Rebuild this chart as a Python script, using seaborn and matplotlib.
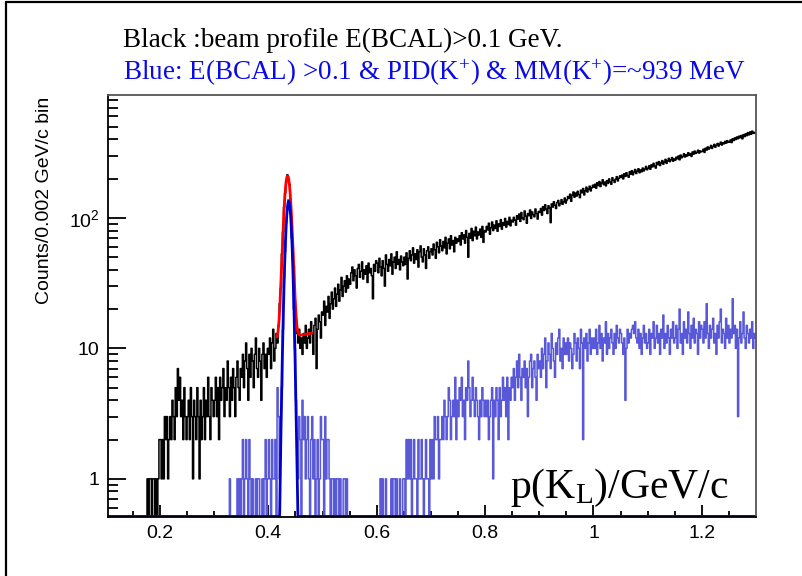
import numpy as np
import pandas as pd
import matplotlib
matplotlib.use("Agg")
import matplotlib.pyplot as plt
import seaborn as sns
from matplotlib.ticker import FixedLocator, LogLocator, NullFormatter
from matplotlib.lines import Line2D

sns.set_theme(style="white")
plt.rcParams['font.family'] = ['Liberation Sans', 'DejaVu Sans']
plt.rcParams['mathtext.fontset'] = 'custom'
plt.rcParams['mathtext.rm'] = 'Liberation Serif'
plt.rcParams['mathtext.it'] = 'Liberation Serif:italic'
plt.rcParams['mathtext.bf'] = 'Liberation Serif:bold'

# ---------------- data ----------------
BIN_START = 0.1
BIN_WIDTH = 0.002
N_BINS = 600

black_counts = (
    [0] * 25 +
    [0,0,0,0,0, 0,0,0,0,0, 0,0,0,1,0, 1,1,0,1,1, 0,1,0,1,2] +
    [2,1,2,1,3, 2,3,1,2,3, 2,4,3,2,5, 3,7,4,6,3, 4,2,5,3,2] +
    [3,4,2,5,3, 1,4,3,2,5, 3,1,4,2,3, 5,2,4,3,6, 3,2,5,4,3] +
    [4,6,3,5,2, 6,4,5,7,3, 5,4,8,5,3, 6,4,7,5,3, 6,8,5,4,7] +
    [6,9,5,8,11, 7,4,9,6,10, 8,5,9,12,7, 6,10,8,4,9, 11,7,9,6,10] +
    [9,12,7,11,14, 8,10,13,11,15, 22,29,53,78,121, 155,196,214,199,181, 134,101,60,43,23] +
    [17,13,11,14,10, 12,9,13,11,15, 10,12,14,11,16, 13,9,15,17,7, 14,18,16,12,19] +
    [18,23,15,21,19, 25,17,22,27,20, 24,29,21,26,31, 23,28,35,25,30, 33,27,36,29,34] +
    [31,38,42,33,40, 36,29,41,44,35, 39,46,34,40,37, 43,32,45,38,41, 36,24,44,39,47] +
    [45,38,49,42,36, 47,41,30,52,44, 39,48,43,53,37, 46,50,41,55,44, 48,40,51,46,43] +
    [50,44,54,34,49, 56,47,52,59,45, 53,48,57,42,55, 61,50,46,58,52, 41,56,60,49,55] +
    [58,52,63,57,49, 65,60,54,68,61, 56,66,59,71,53, 64,69,58,73,62, 67,55,71,64,69] +
    [66,73,62,77,69, 74,64,80,71,50, 76,70,83,67,79, 73,85,69,78,74, 82,71,86,65,80] +
    [78,86,81,91,75, 84,93,80,88,83, 95,79,90,86,97, 82,92,88,99,85, 94,89,101,87,96] +
    [93,101,96,88,104, 98,107,94,110,100, 97,113,103,91,108, 104,115,99,111,106, 102,117,108,98,112] +
    [110,118,105,122,114, 126,117,108,124,119, 92,128,121,133,125, 118,131,136,124,129, 138,127,133,142,130] +
    [137,146,141,152,134, 149,158,144,155,147, 160,151,143,163,156, 168,150,161,172,158, 166,175,161,170,178] +
    [172,181,169,186,177, 190,174,185,196,180, 188,176,193,184,199, 189,181,203,194,187, 198,207,192,201,210] +
    [204,213,199,218,208, 222,211,205,226,216, 230,214,224,235,219, 228,238,222,233,226, 241,229,237,248,234] +
    [240,251,236,255,246, 262,249,241,266,256, 270,252,263,275,258, 268,281,262,274,286, 270,279,290,272,283] +
    [277,292,284,298,279, 303,289,296,310,293, 305,298,316,302,311, 296,320,308,325,312, 318,330,314,326,321] +
    [324,336,318,342,331, 350,337,345,359,341, 353,366,348,360,372, 355,368,381,362,376, 370,386,374,391,380] +
    [383,396,378,404,392, 410,399,417,405,423, 412,428,404,435,420, 441,427,450,433,456, 438,462,445,452,447]
)

blue_counts = (
    [0] * 100 +
    [0,0,0,0,0, 0,0,0,0,0, 0,0,0,0,1, 0,0,0,0,0, 0,1,0,1,0] +
    [1,2,0,1,2, 1,0,2,1,0, 1,0,0,1,0, 1,1,0,0,1, 0,1,2,0,1] +
    [2,1,0,2,1, 1,2,0,5,3, 1,3,5,14,35, 55,92,121,138,126, 108,70,47,20,10] +
    [4,2,1,3,2, 0,4,2,3,1, 2,3,1,0,2, 3,1,2,0,1, 2,0,1,3,2] +
    [2,0,3,1,2, 2,1,0,1,1, 0,1,0,1,1, 0,1,0,0,1, 1,0,1,0,0] +
    [0] * 25 +
    [0,0,0,1,0, 1,0,0,1,0, 0,0,0,1,0, 1,1,0,1,0, 0,1,0,0,1] +
    [1,0,2,1,2, 1,2,0,1,2, 1,1,0,2,1, 1,2,1,0,1, 2,1,1,0,2] +
    [1,2,1,3,2, 2,3,1,2,2, 3,2,4,3,2, 3,5,4,2,3, 4,3,6,2,4] +
    [3,5,4,6,3, 4,2,5,4,8, 5,3,4,6,4, 3,5,4,3,2, 4,3,5,4,3] +
    [4,3,4,2,3, 4,5,1,4,3, 5,4,2,5,3, 4,6,4,5,3, 6,2,5,4,6] +
    [5,7,4,6,8, 5,9,6,4,7, 6,8,5,7,3, 6,8,9,5,7, 8,6,4,9,7] +
    [8,6,10,7,9, 12,5,8,11,9, 7,13,10,8,6, 11,9,12,14,8, 10,7,12,9,11] +
    [9,12,8,11,10, 7,9,13,11,8, 12,10,7,14,11, 2,12,10,13,8, 11,14,9,12,10] +
    [12,10,14,9,11, 15,10,13,8,12, 11,16,9,13,10, 12,14,11,9,13, 10,15,12,11,14] +
    [13,11,9,12,4, 10,14,11,13,12, 14,15,13,16,12, 11,14,10,13,9, 12,15,11,13,10] +
    [11,14,9,13,12, 16,10,12,15,11, 13,9,14,12,18, 10,13,11,15,12, 9,14,12,16,11] +
    [12,15,10,14,20, 11,13,9,16,12, 14,11,19,13,10, 15,12,17,11,14, 13,9,16,12,15] +
    [14,11,16,12,22, 13,10,15,12,14, 17,11,13,9,15, 12,16,20,11,14, 13,10,17,12,15] +
    [11,14,12,24,13, 15,10,14,3,12, 16,11,13,19,12, 10,15,13,11,14, 12,16,10,13,12]
)

# fit parameters
red_fit_amp, red_fit_mean, red_fit_sigma = 198.0, 0.4355, 0.0058
red_fit_bkg0, red_fit_bkg1 = 12.0, 25.0
red_fit_range = (0.416, 0.480)
blue_fit_amp, blue_fit_mean, blue_fit_sigma = 134.0, 0.4375, 0.0050

x_ticks = [0.2, 0.4, 0.6, 0.8, 1.0, 1.2]
x_tick_labels = ["0.2", "0.4", "0.6", "0.8", "1", "1.2"]
y_ticks = [1, 10, 100]
y_tick_labels = ["1", "10", r"$\mathregular{10^{2}}$"]

assert len(black_counts) == N_BINS, len(black_counts)
assert len(blue_counts) == N_BINS, len(blue_counts)

edges = [BIN_START + BIN_WIDTH * i for i in range(N_BINS + 1)]
centers = [e + BIN_WIDTH / 2 for e in edges[:-1]]
df = pd.DataFrame({"p": centers, "black": black_counts, "blue": blue_counts})

YMIN, YMAX = 0.51, 875
XMIN, XMAX = 0.104, 1.3

# ---------------- figure ----------------
fig = plt.figure(figsize=(8.02, 5.76), dpi=100)
fig.patch.set_facecolor("white")
ax = fig.add_axes([108/802, 1-517/576, 648/802, 422/576])
ax.set_facecolor("white")

sns.histplot(data=df, x="p", weights="black", bins=edges, element="step",
             fill=False, color="black", linewidth=1.1, ax=ax)
sns.histplot(data=df, x="p", weights="blue", bins=edges, element="step",
             fill=False, color="#5858d8", linewidth=1.1, ax=ax)

# red fit (gaussian + linear background)
xr = np.linspace(red_fit_range[0], red_fit_range[1], 300)
yr = (red_fit_amp * np.exp(-0.5 * ((xr - red_fit_mean) / red_fit_sigma) ** 2)
      + red_fit_bkg0 + red_fit_bkg1 * (xr - red_fit_mean))
sns.lineplot(x=xr, y=yr, color="#ff0000", linewidth=2.0, ax=ax, sort=False)

# blue fit (gaussian)
xb = np.linspace(BIN_START, 1.3, 3000)
yb = blue_fit_amp * np.exp(-0.5 * ((xb - blue_fit_mean) / blue_fit_sigma) ** 2)
yb = np.maximum(yb, YMIN * 1.01)
sns.lineplot(x=xb, y=yb, color="#0000cc", linewidth=2.0, ax=ax, sort=False)

ax.set_yscale("log")
ax.set_xlim(XMIN, XMAX)
ax.set_ylim(YMIN, YMAX)

ax.xaxis.set_major_locator(FixedLocator(x_ticks))
ax.set_xticklabels(x_tick_labels)
ax.xaxis.set_minor_locator(FixedLocator([v for v in np.arange(0.15, 1.3, 0.05)
                                         if min(abs(v - t) for t in x_ticks) > 1e-6]))
ax.yaxis.set_major_locator(FixedLocator(y_ticks))
ax.set_yticklabels(y_tick_labels)
ax.yaxis.set_minor_locator(LogLocator(base=10, subs=np.arange(2, 10)))
ax.yaxis.set_minor_formatter(NullFormatter())

ax.tick_params(axis="both", which="both", direction="in", colors="black",
               top=False, right=False, left=True, bottom=True)
ax.tick_params(axis="y", which="major", length=13, width=1.3, labelsize=14, pad=6)
ax.tick_params(axis="y", which="minor", length=7, width=1.3)
ax.tick_params(axis="x", which="major", length=8.5, width=1.3, labelsize=14, pad=6)
ax.tick_params(axis="x", which="minor", length=4, width=1.3)

for side in ["left", "bottom"]:
    ax.spines[side].set_color("black")
    ax.spines[side].set_linewidth(1.3)
for side in ["top", "right"]:
    ax.spines[side].set_color("#555555")
    ax.spines[side].set_linewidth(1.3)

ax.set_xlabel("")
ax.set_ylabel("Counts/0.002 GeV/c bin", fontsize=14, loc="top", color="black")
ax.yaxis.set_label_coords(-0.085, 0.995)

ax.text((510-108)/648, (517-498)/422, r"p(K$_{\mathrm{L}}$)/GeV/c",
        transform=ax.transAxes, fontsize=30, family="Liberation Serif",
        ha="left", va="baseline", color="black")

fig.text(123/802, 1-47/576, "Black :beam profile E(BCAL)>0.1 GeV.",
         fontsize=19.5, family="Liberation Serif", color="black",
         ha="left", va="baseline")
fig.text(123/802, 1-80/576,
         r"Blue: E(BCAL) >0.1 & PID(K$^{+}$) & MM(K$^{+}$)=~939 MeV",
         fontsize=19.5, family="Liberation Serif", color="#0a0ae8",
         ha="left", va="baseline")

# outer frame
fig.add_artist(Line2D([6/802, 6/802], [0, 1-2/576], transform=fig.transFigure,
                      color="black", linewidth=1.6))
fig.add_artist(Line2D([6/802, 1], [1-2/576, 1-2/576], transform=fig.transFigure,
                      color="black", linewidth=1.6))

fig.savefig("out.png", dpi=100, facecolor="white")
